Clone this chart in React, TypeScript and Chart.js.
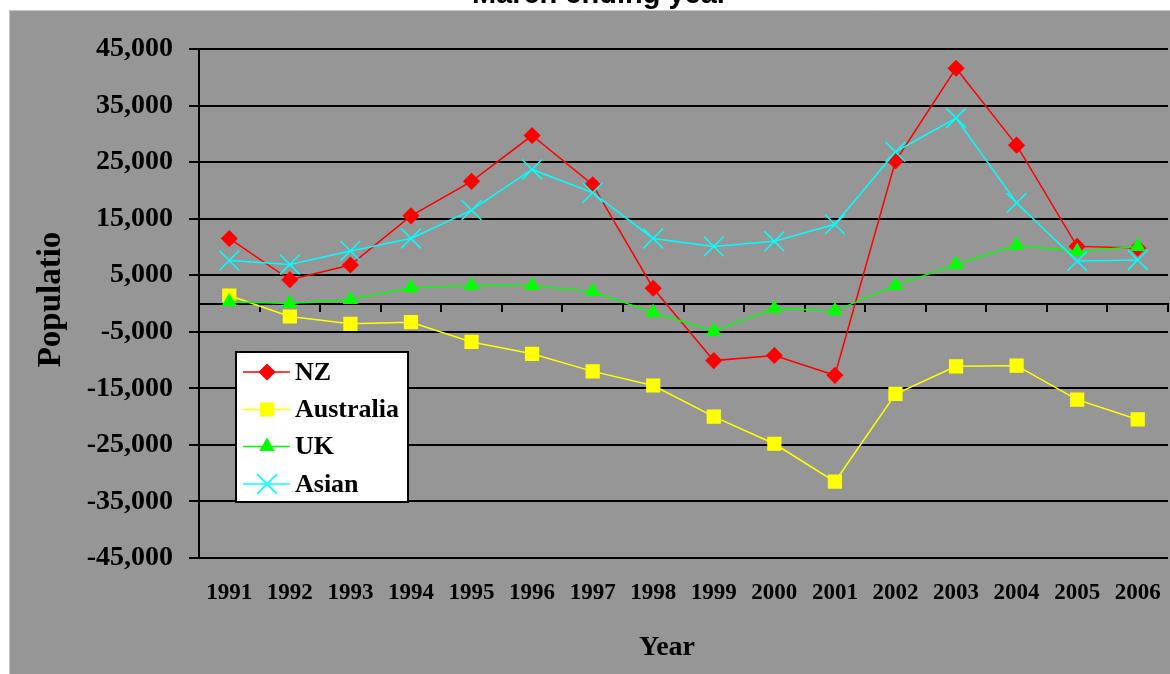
import { useEffect, useRef } from 'react';
import { Chart, registerables } from 'chart.js';
import { drawPoint } from 'chart.js/helpers';

Chart.register(...registerables);

const years = ['1991', '1992', '1993', '1994', '1995', '1996', '1997', '1998', '1999', '2000', '2001', '2002', '2003', '2004', '2005', '2006'];
const nzValues = [11500, 4200, 6800, 15500, 21600, 29700, 21000, 2700, -10100, -9200, -12700, 25200, 41600, 28000, 10100, 9800];
const australiaValues = [1400, -2300, -3600, -3300, -6800, -8900, -12000, -14500, -20000, -24800, -31500, -16000, -11100, -11000, -17000, -20500];
const ukValues = [300, 0, 700, 2800, 3200, 3200, 2100, -1600, -4900, -900, -1300, 3200, 6900, 10300, 9200, 10100];
const asianValues = [7600, 6900, 9300, 11500, 16500, 23700, 19600, 11500, 10100, 11000, 14000, 26800, 32800, 17800, 7500, 7700];

const seriesNames = ['NZ', 'Australia', 'UK', 'Asian'];
const seriesColors = ['#ff0000', '#ffff00', '#00ff00', '#00ffff'];
const seriesStyles = ['rectRot', 'rect', 'triangle', 'crossRot'];
const seriesRadii = [7.5, 9, 7.5, 14];

const yMin = -45000;
const yMax = 45000;
const yStep = 10000;

const chartTitle = 'March ending year';
const xTitle = 'Year';
const yTitle = 'Populatio';

const W = 1170;
const H = 674;
const SERIF = '"Liberation Serif", "Times New Roman", serif';
const SANS = '"Liberation Sans", Arial, sans-serif';

const backgroundPlugin = {
  id: 'bgPanel',
  beforeDraw(chart: any) {
    const ctx = chart.ctx;
    ctx.save();
    ctx.fillStyle = '#ffffff';
    ctx.fillRect(0, 0, chart.width, chart.height);
    ctx.fillStyle = '#969696';
    ctx.fillRect(9, 10, chart.width - 9, chart.height - 10);
    ctx.strokeStyle = '#c4c4c4';
    ctx.lineWidth = 1;
    ctx.beginPath();
    ctx.moveTo(9, 10.5);
    ctx.lineTo(chart.width, 10.5);
    ctx.moveTo(9.5, 10);
    ctx.lineTo(9.5, chart.height);
    ctx.stroke();
    ctx.restore();
  },
};

const textPlugin = {
  id: 'texts',
  afterDraw(chart: any) {
    const ctx = chart.ctx;
    ctx.save();
    ctx.fillStyle = '#000000';
    ctx.font = `bold 29px ${SANS}`;
    ctx.textAlign = 'center';
    ctx.textBaseline = 'alphabetic';
    ctx.fillText(chartTitle, 600, 3);

    ctx.font = `bold 28px ${SERIF}`;
    ctx.fillText(xTitle, 667, 655);

    ctx.translate(60, 299.5);
    ctx.rotate(-Math.PI / 2);
    ctx.font = `bold 33px ${SERIF}`;
    ctx.fillText(yTitle, 0, 0);
    ctx.restore();
  },
};

const legendPlugin = {
  id: 'boxLegend',
  afterDatasetsDraw(chart: any) {
    const ctx = chart.ctx;
    ctx.save();
    ctx.fillStyle = '#ffffff';
    ctx.fillRect(236, 352, 172, 150);
    ctx.strokeStyle = '#000000';
    ctx.lineWidth = 2;
    ctx.strokeRect(236, 352, 172, 150);
    const rowY = [372, 409.5, 446.5, 484];
    seriesNames.forEach((name, i) => {
      const y = rowY[i];
      ctx.strokeStyle = seriesColors[i];
      ctx.lineWidth = 1.5;
      ctx.beginPath();
      ctx.moveTo(243, y);
      ctx.lineTo(290, y);
      ctx.stroke();
      ctx.fillStyle = seriesColors[i];
      ctx.strokeStyle = seriesColors[i];
      ctx.lineWidth = 1.5;
      drawPoint(ctx, { pointStyle: seriesStyles[i], radius: seriesRadii[i], rotation: 0, borderWidth: 1.5 }, 267, y);
      ctx.fillStyle = '#000000';
      ctx.font = `bold 26px ${SERIF}`;
      ctx.textAlign = 'left';
      ctx.textBaseline = 'middle';
      ctx.fillText(name, 295, y + 1);
    });
    ctx.restore();
  },
};

const noSidePadding = (s: any) => {
  s.paddingLeft = 0;
  s.paddingRight = 0;
};

export default function App() {
  const canvasRef = useRef<HTMLCanvasElement | null>(null);

  useEffect(() => {
    const canvas = canvasRef.current;
    if (!canvas) return;
    const valueSets = [nzValues, australiaValues, ukValues, asianValues];
    const chart = new Chart(canvas, {
      type: 'line',
      data: {
        labels: years,
        datasets: seriesNames.map((name, i) => ({
          label: name,
          data: valueSets[i],
          borderColor: seriesColors[i],
          backgroundColor: seriesColors[i],
          pointBackgroundColor: seriesColors[i],
          pointBorderColor: seriesColors[i],
          pointStyle: seriesStyles[i] as any,
          pointRadius: seriesRadii[i],
          pointBorderWidth: 1.5,
          borderWidth: 1.5,
          tension: 0,
          fill: false,
          clip: false as any,
          order: 3 - i,
        })),
      },
      options: {
        responsive: false,
        animation: false,
        devicePixelRatio: 1,
        layout: { autoPadding: false, padding: { top: 49, right: 2, bottom: 0, left: 0 } },
        plugins: {
          legend: { display: false },
          title: { display: false },
          tooltip: { enabled: false },
        },
        scales: {
          x: {
            type: 'category',
            position: 'bottom',
            offset: true,
            grid: { display: false },
            border: { display: false },
            ticks: {
              color: '#000000',
              font: { family: SERIF, size: 23, weight: 'bold' },
              padding: 13,
              maxRotation: 0,
              autoSkip: false,
            },
            afterFit: (s: any) => {
              s.height = 116;
              noSidePadding(s);
            },
          },
          x2: {
            type: 'category',
            axis: 'x',
            position: { y: 0 },
            offset: true,
            grid: {
              offset: true,
              drawOnChartArea: false,
              drawTicks: true,
              tickLength: 7,
              color: '#000000',
              lineWidth: 2,
            },
            border: { display: true, color: '#000000', width: 2 },
            ticks: { display: false, padding: 0 },
            afterFit: noSidePadding,
          } as any,
          y: {
            type: 'linear',
            min: yMin,
            max: yMax,
            ticks: {
              stepSize: yStep,
              color: '#000000',
              font: { family: SERIF, size: 28, weight: 'bold' },
              padding: 16,
              callback: (v: any) => Number(v).toLocaleString('en-US'),
            },
            grid: { color: '#000000', lineWidth: 2, tickLength: 10 },
            border: { display: true, color: '#000000', width: 2 },
            afterFit: (s: any) => {
              s.width = 199;
            },
          },
        },
      },
      plugins: [backgroundPlugin, legendPlugin, textPlugin],
    });
    return () => chart.destroy();
  }, []);

  return (
    <div style={{ position: 'absolute', left: 0, top: 0, width: W, height: H, overflow: 'hidden', background: '#ffffff' }}>
      <canvas ref={canvasRef} width={W} height={H} style={{ display: 'block', width: W, height: H }} />
    </div>
  );
}
